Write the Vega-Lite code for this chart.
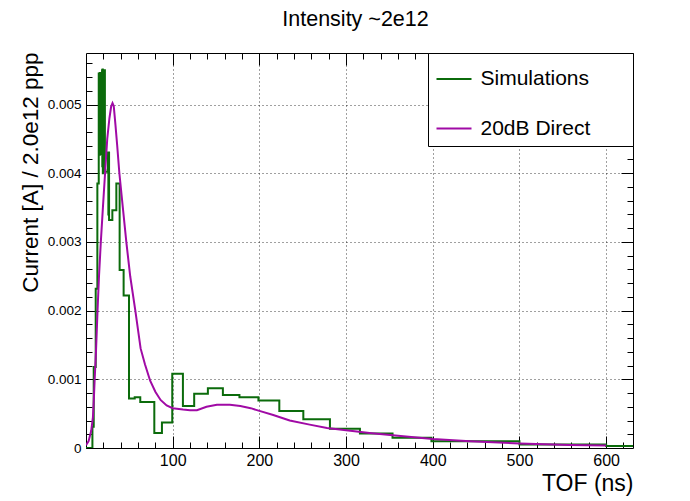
{
  "$schema": "https://vega.github.io/schema/vega-lite/v6.json",
  "width": 547,
  "height": 395,
  "autosize": {"type": "none"},
  "padding": {"left": 86, "top": 53, "right": 57, "bottom": 53},
  "background": "white",
  "title": {
    "text": "Intensity ~2e12",
    "font": "Liberation Sans Narrow, Liberation Sans",
    "fontSize": 21.5,
    "fontWeight": "normal",
    "color": "black",
    "anchor": "middle",
    "frame": "group",
    "baseline": "alphabetic",
    "offset": 5,
    "dx": -4
  },
  "datasets": {
    "sim": [
      {"series": "Simulations", "t": 0, "v": 0},
      {"series": "Simulations", "t": 7.4, "v": 0.00031},
      {"series": "Simulations", "t": 8.9, "v": 0.00118},
      {"series": "Simulations", "t": 11.2, "v": 0.00232},
      {"series": "Simulations", "t": 13.1, "v": 0.00385},
      {"series": "Simulations", "t": 14.7, "v": 0.00545},
      {"series": "Simulations", "t": 15.1, "v": 0.0043},
      {"series": "Simulations", "t": 15.4, "v": 0.00545},
      {"series": "Simulations", "t": 15.7, "v": 0.00427},
      {"series": "Simulations", "t": 16.0, "v": 0.00546},
      {"series": "Simulations", "t": 16.3, "v": 0.0043},
      {"series": "Simulations", "t": 16.6, "v": 0.00544},
      {"series": "Simulations", "t": 16.9, "v": 0.00428},
      {"series": "Simulations", "t": 17.2, "v": 0.00545},
      {"series": "Simulations", "t": 17.5, "v": 0.0043},
      {"series": "Simulations", "t": 17.8, "v": 0.00545},
      {"series": "Simulations", "t": 18.1, "v": 0.0043},
      {"series": "Simulations", "t": 18.5, "v": 0.0055},
      {"series": "Simulations", "t": 18.8, "v": 0.0041},
      {"series": "Simulations", "t": 19.1, "v": 0.00551},
      {"series": "Simulations", "t": 19.4, "v": 0.004},
      {"series": "Simulations", "t": 19.7, "v": 0.0055},
      {"series": "Simulations", "t": 20.0, "v": 0.0041},
      {"series": "Simulations", "t": 20.3, "v": 0.00549},
      {"series": "Simulations", "t": 20.6, "v": 0.00402},
      {"series": "Simulations", "t": 20.9, "v": 0.0055},
      {"series": "Simulations", "t": 21.2, "v": 0.00402},
      {"series": "Simulations", "t": 21.5, "v": 0.0055},
      {"series": "Simulations", "t": 21.8, "v": 0.00405},
      {"series": "Simulations", "t": 22.3, "v": 0.00402},
      {"series": "Simulations", "t": 25.4, "v": 0.0043},
      {"series": "Simulations", "t": 25.8, "v": 0.0034},
      {"series": "Simulations", "t": 26.2, "v": 0.0043},
      {"series": "Simulations", "t": 26.6, "v": 0.00332},
      {"series": "Simulations", "t": 30.4, "v": 0.00346},
      {"series": "Simulations", "t": 35, "v": 0.00385},
      {"series": "Simulations", "t": 38.8, "v": 0.00259},
      {"series": "Simulations", "t": 43.4, "v": 0.00222},
      {"series": "Simulations", "t": 49.6, "v": 0.00072},
      {"series": "Simulations", "t": 56.2, "v": 0.00074},
      {"series": "Simulations", "t": 62.6, "v": 0.00067},
      {"series": "Simulations", "t": 78.8, "v": 0.00022},
      {"series": "Simulations", "t": 87.6, "v": 0.00037},
      {"series": "Simulations", "t": 99.5, "v": 0.00108},
      {"series": "Simulations", "t": 111.8, "v": 0.00061},
      {"series": "Simulations", "t": 124.8, "v": 0.00079},
      {"series": "Simulations", "t": 140.6, "v": 0.00087},
      {"series": "Simulations", "t": 157.9, "v": 0.00077},
      {"series": "Simulations", "t": 177, "v": 0.00074},
      {"series": "Simulations", "t": 198.9, "v": 0.00069},
      {"series": "Simulations", "t": 223, "v": 0.00054},
      {"series": "Simulations", "t": 250.7, "v": 0.00042},
      {"series": "Simulations", "t": 281.4, "v": 0.00028},
      {"series": "Simulations", "t": 316, "v": 0.00021},
      {"series": "Simulations", "t": 353.6, "v": 0.00015},
      {"series": "Simulations", "t": 398.5, "v": 0.0001},
      {"series": "Simulations", "t": 500, "v": 0.00005},
      {"series": "Simulations", "t": 600, "v": 0.00003},
      {"series": "Simulations", "t": 631, "v": 0.00003}
    ],
    "direct": [
      {"series": "20dB Direct", "t": 0, "v": 0.00004},
      {"series": "20dB Direct", "t": 3, "v": 0.0001},
      {"series": "20dB Direct", "t": 6, "v": 0.00025},
      {"series": "20dB Direct", "t": 8, "v": 0.00045},
      {"series": "20dB Direct", "t": 9, "v": 0.0007},
      {"series": "20dB Direct", "t": 10, "v": 0.001},
      {"series": "20dB Direct", "t": 11.5, "v": 0.0014},
      {"series": "20dB Direct", "t": 13.3, "v": 0.002},
      {"series": "20dB Direct", "t": 15, "v": 0.0025},
      {"series": "20dB Direct", "t": 17.1, "v": 0.003},
      {"series": "20dB Direct", "t": 19.5, "v": 0.0035},
      {"series": "20dB Direct", "t": 22, "v": 0.004},
      {"series": "20dB Direct", "t": 24.5, "v": 0.0045},
      {"series": "20dB Direct", "t": 27, "v": 0.0048},
      {"series": "20dB Direct", "t": 29, "v": 0.00497},
      {"series": "20dB Direct", "t": 30.6, "v": 0.00502},
      {"series": "20dB Direct", "t": 32, "v": 0.00498},
      {"series": "20dB Direct", "t": 34, "v": 0.0047},
      {"series": "20dB Direct", "t": 36, "v": 0.0044},
      {"series": "20dB Direct", "t": 38.5, "v": 0.004},
      {"series": "20dB Direct", "t": 42.5, "v": 0.0035},
      {"series": "20dB Direct", "t": 46.5, "v": 0.003},
      {"series": "20dB Direct", "t": 51, "v": 0.0025},
      {"series": "20dB Direct", "t": 56.9, "v": 0.002},
      {"series": "20dB Direct", "t": 63, "v": 0.00145},
      {"series": "20dB Direct", "t": 68, "v": 0.00122},
      {"series": "20dB Direct", "t": 74, "v": 0.00098},
      {"series": "20dB Direct", "t": 80, "v": 0.00082},
      {"series": "20dB Direct", "t": 86, "v": 0.0007},
      {"series": "20dB Direct", "t": 93, "v": 0.00062},
      {"series": "20dB Direct", "t": 100, "v": 0.00058},
      {"series": "20dB Direct", "t": 112, "v": 0.00056},
      {"series": "20dB Direct", "t": 120, "v": 0.00055},
      {"series": "20dB Direct", "t": 128, "v": 0.00055},
      {"series": "20dB Direct", "t": 139, "v": 0.0006},
      {"series": "20dB Direct", "t": 151, "v": 0.00063},
      {"series": "20dB Direct", "t": 166, "v": 0.00063},
      {"series": "20dB Direct", "t": 178, "v": 0.00061},
      {"series": "20dB Direct", "t": 190, "v": 0.00058},
      {"series": "20dB Direct", "t": 200, "v": 0.00054},
      {"series": "20dB Direct", "t": 216, "v": 0.00048},
      {"series": "20dB Direct", "t": 235, "v": 0.0004},
      {"series": "20dB Direct", "t": 258, "v": 0.00034},
      {"series": "20dB Direct", "t": 278, "v": 0.00029},
      {"series": "20dB Direct", "t": 300, "v": 0.00026},
      {"series": "20dB Direct", "t": 327, "v": 0.00022},
      {"series": "20dB Direct", "t": 366, "v": 0.00017},
      {"series": "20dB Direct", "t": 400, "v": 0.00013},
      {"series": "20dB Direct", "t": 443, "v": 0.0001},
      {"series": "20dB Direct", "t": 500, "v": 0.000065},
      {"series": "20dB Direct", "t": 558, "v": 0.000045},
      {"series": "20dB Direct", "t": 600, "v": 0.000035}
    ]
  },
  "config": {
    "view": {"stroke": "black", "strokeWidth": 1},
    "axis": {
      "domain": false,
      "tickColor": "black",
      "tickWidth": 1,
      "labelColor": "black",
      "titleColor": "black",
      "labelFlush": false,
      "labelOverlap": false,
      "gridColor": "#000000",
      "gridOpacity": 0.75,
      "gridDash": [1, 3],
      "gridWidth": 1
    }
  },
  "resolve": {"axis": {"x": "independent", "y": "independent"}},
  "layer": [
    {
      "data": {"name": "sim"},
      "mark": {"type": "line", "interpolate": "step-after", "strokeWidth": 2, "clip": true},
      "encoding": {
        "x": {
          "field": "t", "type": "quantitative",
          "scale": {"domain": [0, 631], "nice": false, "zero": false},
          "axis": {
            "orient": "bottom",
            "values": [100, 200, 300, 400, 500, 600],
            "grid": true,
            "tickSize": -12,
            "labelPadding": 16,
            "labelFont": "Liberation Sans",
            "labelFontSize": 16,
            "title": "TOF (ns)",
            "titleFont": "Liberation Sans",
            "titleFontSize": 23,
            "titleFontWeight": "normal",
            "titleAlign": "right",
            "titleBaseline": "alphabetic",
            "titleX": 547,
            "titleY": 42
          }
        },
        "y": {
          "field": "v", "type": "quantitative",
          "scale": {"domain": [0, 0.00575], "nice": false, "zero": false},
          "axis": {
            "orient": "left",
            "values": [0, 0.001, 0.002, 0.003, 0.004, 0.005],
            "format": ".3~f",
            "grid": true,
            "tickSize": -12,
            "labelPadding": 17,
            "labelFont": "Liberation Sans Narrow, Liberation Sans",
            "labelFontSize": 13.5,
            "title": "Current [A] / 2.0e12 ppp",
            "titleFont": "Liberation Sans",
            "titleFontSize": 22.5,
            "titleFontWeight": "normal",
            "titleAngle": 270,
            "titleAlign": "right",
            "titleBaseline": "alphabetic",
            "titleX": -49,
            "titleY": -1
          }
        },
        "color": {
          "field": "series", "type": "nominal",
          "scale": {"domain": ["Simulations", "20dB Direct"], "range": ["#0b6b0b", "#a00aa5"]},
          "legend": {
            "orient": "top-right",
            "offset": 0,
            "title": null,
            "symbolType": "stroke",
            "symbolSize": 1225,
            "symbolStrokeWidth": 2,
            "labelFont": "Liberation Sans",
            "labelFontSize": 21,
            "labelColor": "black",
            "labelOffset": 8,
            "labelLimit": 400,
            "labelExpr": "datum.label + '\u00a0\u00a0\u00a0\u00a0\u00a0\u00a0\u200b'",
            "padding": 7.5,
            "rowPadding": 20.5,
            "strokeColor": "black",
            "fillColor": "white",
            "cornerRadius": 0
          }
        }
      }
    },
    {
      "data": {"name": "direct"},
      "mark": {"type": "line", "strokeWidth": 2, "clip": true},
      "encoding": {
        "x": {
          "field": "t", "type": "quantitative",
          "axis": {
            "orient": "bottom",
            "values": [20, 40, 60, 80, 120, 140, 160, 180, 220, 240, 260, 280, 320, 340, 360, 380, 420, 440, 460, 480, 520, 540, 560, 580, 620],
            "labels": false, "grid": false, "tickSize": -6, "title": null
          }
        },
        "y": {
          "field": "v", "type": "quantitative",
          "axis": {
            "orient": "left",
            "values": [0.0002, 0.0004, 0.0006, 0.0008, 0.0012, 0.0014, 0.0016, 0.0018, 0.0022, 0.0024, 0.0026, 0.0028, 0.0032, 0.0034, 0.0036, 0.0038, 0.0042, 0.0044, 0.0046, 0.0048, 0.0052, 0.0054, 0.0056],
            "labels": false, "grid": false, "tickSize": -6, "title": null
          }
        },
        "color": {"field": "series", "type": "nominal"}
      }
    },
    {
      "data": {"name": "direct"},
      "mark": {"type": "line", "strokeOpacity": 0},
      "encoding": {
        "x": {
          "field": "t", "type": "quantitative",
          "axis": {"orient": "top", "values": [100, 200, 300, 400, 500, 600], "labels": false, "grid": false, "tickSize": -12, "title": null}
        },
        "y": {
          "field": "v", "type": "quantitative",
          "axis": {"orient": "right", "values": [0.001, 0.002, 0.003, 0.004, 0.005], "labels": false, "grid": false, "tickSize": -12, "title": null}
        }
      }
    },
    {
      "data": {"name": "direct"},
      "mark": {"type": "line", "strokeOpacity": 0},
      "encoding": {
        "x": {
          "field": "t", "type": "quantitative",
          "axis": {
            "orient": "top",
            "values": [20, 40, 60, 80, 120, 140, 160, 180, 220, 240, 260, 280, 320, 340, 360, 380, 420, 440, 460, 480, 520, 540, 560, 580, 620],
            "labels": false, "grid": false, "tickSize": -6, "title": null
          }
        },
        "y": {
          "field": "v", "type": "quantitative",
          "axis": {
            "orient": "right",
            "values": [0.0002, 0.0004, 0.0006, 0.0008, 0.0012, 0.0014, 0.0016, 0.0018, 0.0022, 0.0024, 0.0026, 0.0028, 0.0032, 0.0034, 0.0036, 0.0038, 0.0042, 0.0044, 0.0046, 0.0048, 0.0052, 0.0054, 0.0056],
            "labels": false, "grid": false, "tickSize": -6, "title": null
          }
        }
      }
    }
  ]
}
